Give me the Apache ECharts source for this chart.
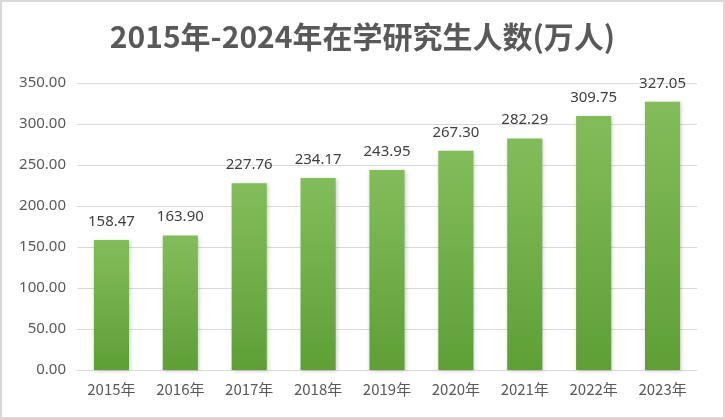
<!DOCTYPE html>
<html>
<head>
<meta charset="utf-8">
<script src="https://cdn.jsdelivr.net/npm/echarts@6/dist/echarts.min.js"></script>
<style>
  html, body { margin: 0; padding: 0; background: #fff; }
  #bar { width: 721px; height: 415px; border: 2px solid #d9d9d9; }
</style>
</head>
<body>
<div id="bar"></div>
<script>
var years = ['2015年', '2016年', '2017年', '2018年', '2019年', '2020年', '2021年', '2022年', '2023年'];
var students = [158.47, 163.90, 227.76, 234.17, 243.95, 267.30, 282.29, 309.75, 327.05];

var myChartBar = echarts.init(document.getElementById('bar'));

var optionBar = {
    animation: false,
    title: {
        text: '2015年-2024年在学研究生人数(万人)',
        left: 'center',
        top: 15,
        textStyle: {
            fontFamily: 'Noto Sans CJK SC',
            fontWeight: 'bold',
            fontSize: 30,
            color: '#595959'
        }
    },
    grid: {
        left: 75,
        right: 26,
        top: 81,
        bottom: 47
    },
    xAxis: {
        type: 'category',
        data: years,
        axisLine: { lineStyle: { color: '#d9d9d9' } },
        axisTick: { show: false },
        axisLabel: {
            color: '#595959',
            fontSize: 15,
            margin: 12,
            fontFamily: 'Noto Sans CJK SC'
        }
    },
    yAxis: {
        type: 'value',
        min: 0,
        max: 350,
        interval: 50,
        axisLine: { show: false },
        axisTick: { show: false },
        splitLine: { lineStyle: { color: '#d9d9d9', width: 1 } },
        axisLabel: {
            color: '#595959',
            fontSize: 15,
            margin: 11,
            fontFamily: 'Noto Sans',
            formatter: function (v) { return v.toFixed(2); }
        }
    },
    series: [{
        name: '人数',
        type: 'bar',
        data: students,
        barWidth: '51%',
        itemStyle: {
            color: new echarts.graphic.LinearGradient(0, 0, 0, 1, [
                { offset: 0, color: '#83bd5b' },
                { offset: 1, color: '#5f9f36' }
            ]),
            shadowBlur: 4,
            shadowOffsetX: 1,
            shadowOffsetY: 1,
            shadowColor: 'rgba(0,0,0,0.2)'
        },
        label: {
            show: true,
            position: 'top',
            distance: 11,
            color: '#404040',
            fontSize: 15,
            fontFamily: 'Noto Sans',
            formatter: function (p) { return p.value.toFixed(2); }
        }
    }]
};

myChartBar.setOption(optionBar);
</script>
</body>
</html>
